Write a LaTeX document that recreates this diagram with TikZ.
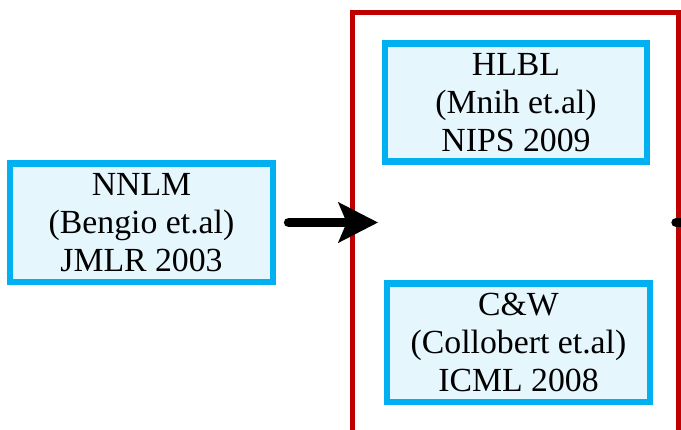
\documentclass[tikz,border=0pt]{standalone}
\usepackage{fontspec}
\setmainfont{Liberation Serif}
\usetikzlibrary{arrows.meta}
\definecolor{boxcyan}{HTML}{00B0F0}
\definecolor{boxfill}{HTML}{E6F6FD}
\definecolor{groupred}{HTML}{C00000}

\begin{document}
\begin{tikzpicture}[x=0.025cm, y=-0.025cm,
  paper/.style={draw=boxcyan, fill=boxfill, line width=4.3pt, align=center,
    minimum width=6.55cm, minimum height=2.95cm, inner sep=0pt,
    font=\fontsize{24}{27.3}\selectfont},
  groupbox/.style={draw=groupred, line width=3.6pt,
    minimum width=8.14cm, minimum height=10.68cm},
  bigline/.style={line width=7pt, line cap=round},
  bigarrow/.style={bigline, -{Stealth[length=1cm, width=1.03cm, inset=0.22cm, line width=0pt]}}
]
% Frame
\clip (0,0) rectangle (681,429);

% Papers
\node[paper] (nnlm) at (141.5,222.5) {NNLM\\(Bengio et.al)\\JMLR 2003};
\node[paper] (hlbl) at (516,102.5) {HLBL\\(Mnih et.al)\\NIPS 2009};
\node[paper] (cw)   at (518.5,342.5) {C\&W\\(Collobert et.al)\\ICML 2008};

% Group
\node[groupbox] (group) at (515.25,226.5) {};

% Arrows
\draw[bigarrow, shorten <=0.33cm, shorten >=-0.7cm] (nnlm.east) -- (nnlm.east -| group.west);
\draw[bigline, shorten <=-0.11cm] (group.east |- nnlm.east) -- ++(20,0);

\end{tikzpicture}
\end{document}
